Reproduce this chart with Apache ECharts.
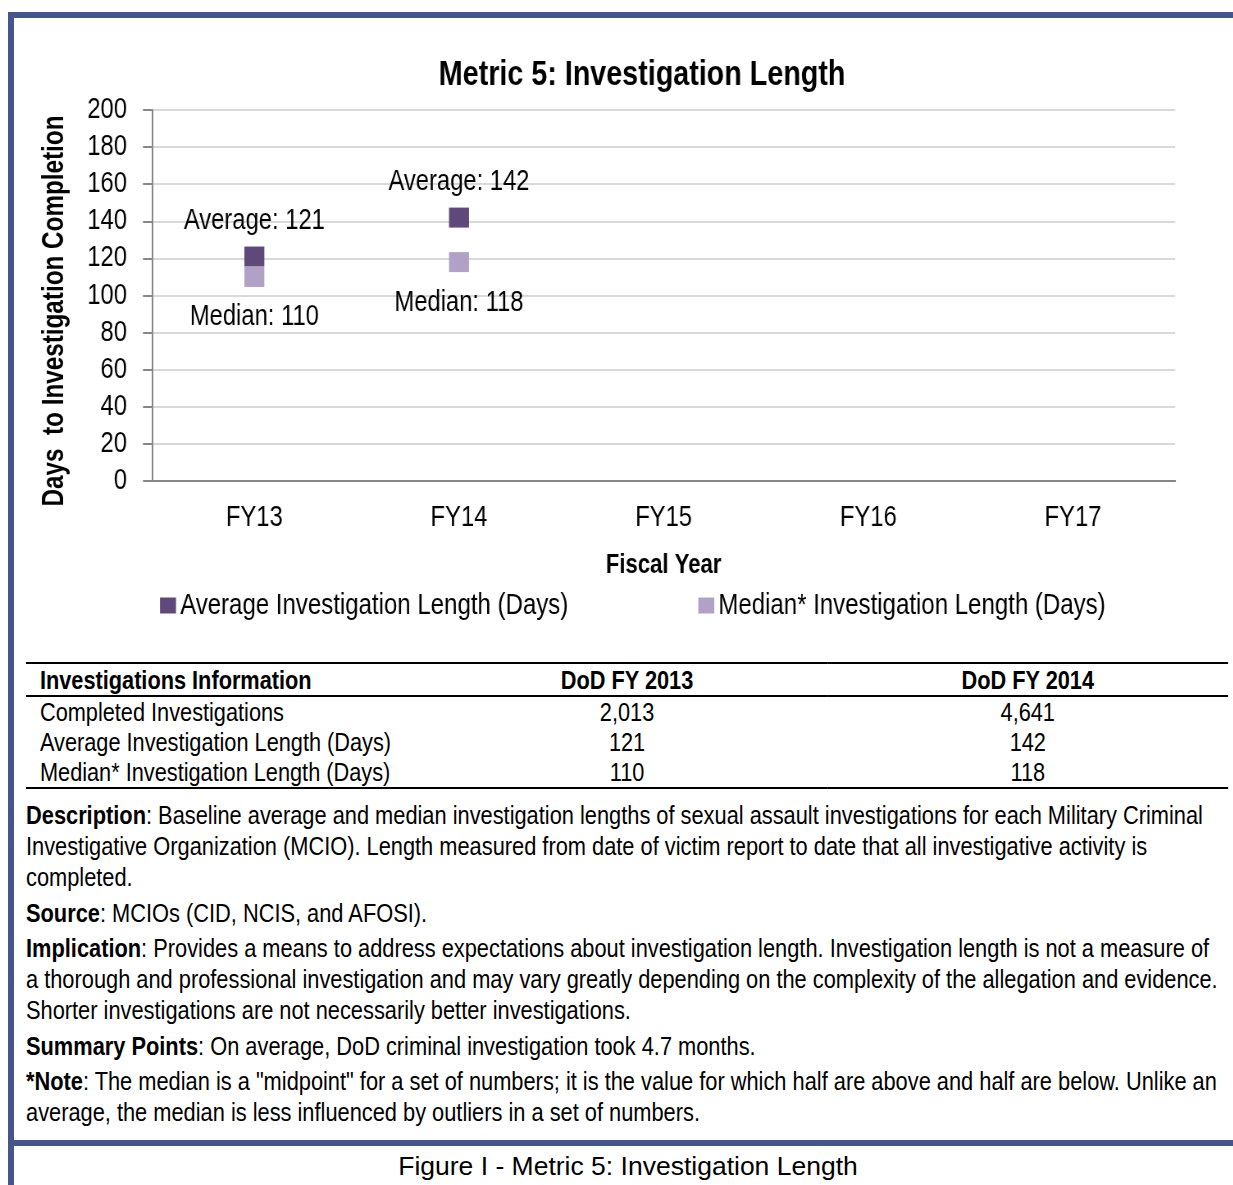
<!DOCTYPE html>
<html>
<head>
<meta charset="utf-8">
<script src="https://cdn.jsdelivr.net/npm/echarts@6/dist/echarts.min.js"></script>
<style>
  body { margin: 0; width: 1233px; height: 1185px; background: #fff; position: relative; overflow: hidden;
         font-family: "Liberation Sans", Arial, sans-serif; color: #000; }
  .bar { position: absolute; background: #46558a; }
  /* Arial Narrow look: draw with Liberation Sans, squeezed horizontally */
  .narrow { transform: scaleX(0.82); transform-origin: 0 0; }
  #chart { position: absolute; left: 0; top: 0; width: 1504px; height: 640px; }
  table { position: absolute; left: 26px; top: 662px; width: 1466px; border-collapse: collapse; font-size: 26.5px; }
  th, td { padding: 0; height: 30px; line-height: 30px; white-space: nowrap; }
  th { border-top: 2px solid #000; border-bottom: 2px solid #000; height: 31px; }
  tbody tr:last-child td { border-bottom: 2px solid #000; }
  .lbl { text-align: left; padding-left: 17px; width: 471px; }
  .num { text-align: center; width: 488px; }
  #notes { position: absolute; left: 26px; top: 800px; width: 1480px; font-size: 26.6px; line-height: 31px; }
  #notes p { margin: 0 0 4.6px 0; white-space: nowrap; }
  #caption { position: absolute; left: 0; top: 1151px; width: 1256px; text-align: center; font-size: 26.5px; }
</style>
</head>
<body>
<div class="bar" style="left:8px;top:12px;width:1225px;height:6px"></div>
<div class="bar" style="left:8px;top:12px;width:6px;height:1173px"></div>
<div class="bar" style="left:8px;top:1140px;width:1225px;height:6px"></div>
<div id="chart" class="narrow"></div>
<table id="tbl" class="narrow"></table>
<div id="notes" class="narrow"></div>
<div id="caption">Figure I - Metric 5: Investigation Length</div>
<script>
const font = '"Liberation Sans", Arial, sans-serif';
const sx = 0.82; // horizontal squeeze of the chart box

// chart data
const fiscalYears = ['FY13', 'FY14', 'FY15', 'FY16', 'FY17'];
const averageDays = [121, 142, null, null, null];
const medianDays = [110, 118, null, null, null];

// table data
const tableHead = ['Investigations Information', 'DoD FY 2013', 'DoD FY 2014'];
const rowLabels = ['Completed Investigations', 'Average Investigation Length (Days)', 'Median* Investigation Length (Days)'];
const fy2013 = ['2,013', '121', '110'];
const fy2014 = ['4,641', '142', '118'];

// notes (line breaks as in the figure)
const notes = [
  ['Description', ': Baseline average and median investigation lengths of sexual assault investigations for each Military Criminal<br>Investigative Organization (MCIO). Length measured from date of victim report to date that all investigative activity is<br>completed.'],
  ['Source', ': MCIOs (CID, NCIS, and AFOSI).'],
  ['Implication', ': Provides a means to address expectations about investigation length. Investigation length is not a measure of<br>a thorough and professional investigation and may vary greatly depending on the complexity of the allegation and evidence.<br>Shorter investigations are not necessarily better investigations.'],
  ['Summary Points', ': On average, DoD criminal investigation took 4.7 months.'],
  ['*Note', ': The median is a "midpoint" for a set of numbers; it is the value for which half are above and half are below. Unlike an<br>average, the median is less influenced by outliers in a set of numbers.']
];

let html = '<thead><tr><th class="lbl">' + tableHead[0] + '</th><th class="num">' + tableHead[1] +
  '</th><th class="num">' + tableHead[2] + '</th></tr></thead><tbody>';
rowLabels.forEach((r, i) => {
  html += '<tr><td class="lbl">' + r + '</td><td class="num">' + fy2013[i] + '</td><td class="num">' + fy2014[i] + '</td></tr>';
});
document.getElementById('tbl').innerHTML = html + '</tbody>';
document.getElementById('notes').innerHTML = notes.map(n => '<p><b>' + n[0] + '</b>' + n[1] + '</p>').join('');

const chart = echarts.init(document.getElementById('chart'));
chart.setOption({
  animation: false,
  textStyle: { fontFamily: font },
  title: {
    text: 'Metric 5: Investigation Length',
    left: 638 / sx, top: 53, textAlign: 'center',
    textStyle: { fontFamily: font, fontSize: 35, fontWeight: 'bold', color: '#000' }
  },
  legend: {
    left: 160 / sx, top: 591, padding: 0, itemGap: 130 / sx, itemWidth: 16 / sx, itemHeight: 16,
    icon: 'rect',
    textStyle: { fontFamily: font, fontSize: 29.3, color: '#000' }
  },
  graphic: [{
    type: 'text',
    x: 55 / sx, y: 311,
    rotation: Math.PI / 2,
    scaleX: sx, scaleY: 1 / sx,
    style: {
      text: 'Days  to Investigation Completion',
      font: 'bold 29.6px ' + font,
      fill: '#000', align: 'center', verticalAlign: 'middle'
    }
  }],
  grid: { left: 152 / sx, right: 58 / sx, top: 110, bottom: 159 },
  xAxis: {
    type: 'category',
    data: fiscalYears,
    name: 'Fiscal Year',
    nameLocation: 'middle',
    nameGap: 71,
    nameTextStyle: { fontFamily: font, fontSize: 27, fontWeight: 'bold', color: '#000' },
    axisLine: { lineStyle: { color: '#868686', width: 2 } },
    axisTick: { length: 8, lineStyle: { color: '#868686', width: 2 } },
    axisLabel: { fontFamily: font, fontSize: 29, color: '#000', margin: 22 }
  },
  yAxis: {
    type: 'value',
    min: 0, max: 200, interval: 20,
    axisLine: { show: true, lineStyle: { color: '#868686', width: 2 } },
    axisTick: { show: true, length: 9 / sx, lineStyle: { color: '#868686', width: 2 } },
    axisLabel: { fontFamily: font, fontSize: 29, color: '#000', margin: 25 / sx },
    splitLine: { lineStyle: { color: '#d9d9d9', width: 2 } }
  },
  series: [
    {
      name: 'Average Investigation Length (Days)',
      type: 'scatter',
      symbol: 'rect',
      symbolSize: [20 / sx, 20],
      itemStyle: { color: '#5f497a', opacity: 1 },
      data: averageDays,
      label: {
        show: true, position: 'top', distance: 11,
        formatter: p => 'Average: ' + p.value,
        fontFamily: font, fontSize: 29, color: '#000'
      }
    },
    {
      name: 'Median* Investigation Length (Days)',
      type: 'scatter',
      symbol: 'rect',
      symbolSize: [20 / sx, 20],
      itemStyle: { color: '#b2a1c7', opacity: 1 },
      data: medianDays,
      label: {
        show: true, position: 'bottom', distance: 16,
        formatter: p => 'Median: ' + p.value,
        fontFamily: font, fontSize: 29, color: '#000'
      }
    }
  ]
});
</script>
</body>
</html>
